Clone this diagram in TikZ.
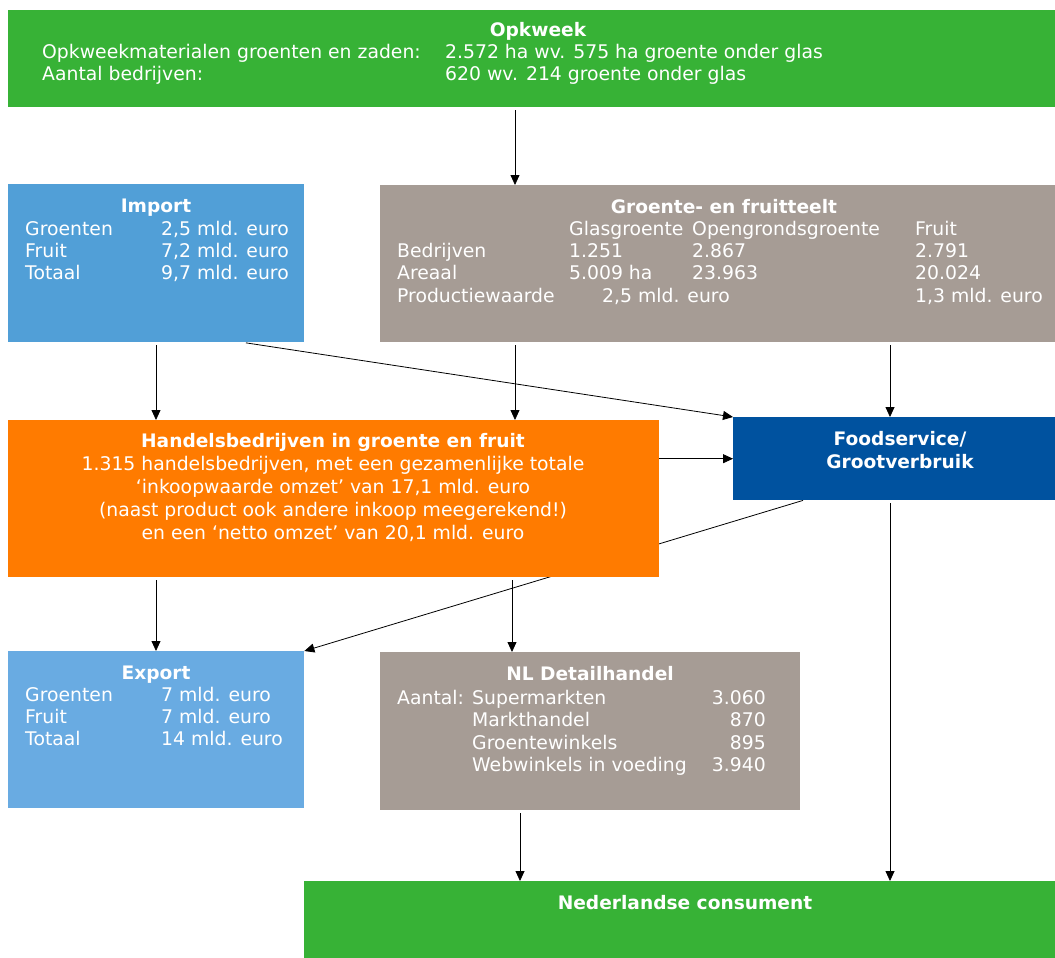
\documentclass[tikz,border=0pt]{standalone}
\usepackage{fontspec}
\setmainfont{DejaVu Sans}
\usetikzlibrary{arrows.meta,backgrounds}

\definecolor{opkgreen}{RGB}{55,178,54}
\definecolor{impblue}{RGB}{81,159,215}
\definecolor{expblue}{RGB}{105,171,226}
\definecolor{teeltgrey}{RGB}{166,156,149}
\definecolor{handelorange}{RGB}{255,123,0}
\definecolor{fooddarkblue}{RGB}{0,82,159}

\newcommand{\flowbox}[6]
{
\def\bx{#2} % left edge of the box
\def\by{#3} % top edge of the box
\def\bw{#4} % width of the box
\def\bh{#5} % height of the box
\node[box, fill=#6, minimum width=\bw pt, minimum height=\bh pt] (#1) at (\bx,\by) {};
}

\tikzset{
  box/.style={rectangle, anchor=north west, inner sep=0pt, draw=none},
  txt/.style={text=white, inner sep=0pt, anchor=base west},
  txtc/.style={text=white, inner sep=0pt, anchor=base},
  ttl/.style={text=white, inner sep=0pt, anchor=base, font=\fontsize{18.6}{22}\selectfont\bfseries},
  arr/.style={-{Triangle[length=10pt,width=9pt]}, black, line width=0.8pt, shorten <=3pt}
}

\begin{document}
\begin{tikzpicture}[x=1pt,y=-1pt,font=\fontsize{18.8}{22}\selectfont]
\useasboundingbox (0,0) rectangle (1055,958);

% Boxes
\flowbox{opk}{8}{10}{1047}{97}{opkgreen}
\flowbox{imp}{8}{184}{296}{158}{impblue}
\flowbox{teelt}{380}{185}{675}{157}{teeltgrey}
\flowbox{handel}{8}{420}{651}{157}{handelorange}
\flowbox{food}{733}{417}{322}{83}{fooddarkblue}
\flowbox{exp}{8}{651}{296}{157}{expblue}
\flowbox{detail}{380}{652}{420}{158}{teeltgrey}
\flowbox{cons}{304}{881}{751}{77}{opkgreen}

% Opkweek
\node[ttl] (opk-t) at (538,37) {Opkweek};
\node[txt] (opk-l1) at (42,59) {Opkweekmaterialen groenten en zaden:};
\node[txt] (opk-v1) at (445,59) {2.572 ha wv. 575 ha groente onder glas};
\node[txt] (opk-l2) at (42,81) {Aantal bedrijven:};
\node[txt] (opk-v2) at (445,81) {620 wv. 214 groente onder glas};

% Import
\node[ttl] (imp-t) at (156,212) {Import};
\foreach \lbl/\val [count=\i] in {Groenten/{2,5 mld. euro},Fruit/{7,2 mld. euro},Totaal/{9,7 mld. euro}}
{
\node[txt] (imp-l\i) at (25,213+22*\i) {\lbl};
\node[txt] (imp-v\i) at (161,213+22*\i) {\val};
}

% Groente- en fruitteelt
\node[ttl] (teelt-t) at (724,213) {Groente- en fruitteelt};
\node[txt] (teelt-h1) at (569,235) {Glasgroente};
\node[txt] (teelt-h2) at (692,235) {Opengrondsgroente};
\node[txt] (teelt-h3) at (915,235) {Fruit};
\foreach \lbl/\a/\b/\c [count=\i] in {Bedrijven/1.251/2.867/2.791,Areaal/5.009 ha/23.963/20.024}
{
\node[txt] (teelt-l\i) at (397,235+22*\i) {\lbl};
\node[txt] (teelt-a\i) at (569,235+22*\i) {\a};
\node[txt] (teelt-b\i) at (692,235+22*\i) {\b};
\node[txt] (teelt-c\i) at (915,235+22*\i) {\c};
}
\node[txt] (teelt-l3) at (397,302) {Productiewaarde};
\node[txt] (teelt-a3) at (602,302) {2,5 mld. euro};
\node[txt] (teelt-c3) at (915,302) {1,3 mld. euro};

% Handelsbedrijven
\node[ttl] (handel-t) at (333,447) {Handelsbedrijven in groente en fruit};
\foreach \line [count=\i] in {{1.315 handelsbedrijven, met een gezamenlijke totale},{`inkoopwaarde omzet' van 17,1 mld. euro},{(naast product ook andere inkoop meegerekend!)},{en een `netto omzet' van 20,1 mld. euro}}
\node[txtc] (handel-l\i) at (333,447+23*\i) {\line};

% Foodservice
\node[ttl] (food-t1) at (900,445) {Foodservice/};
\node[ttl] (food-t2) at (900,468) {Grootverbruik};

% Export
\node[ttl] (exp-t) at (156,679) {Export};
\foreach \lbl/\val [count=\i] in {Groenten/{7 mld. euro},Fruit/{7 mld. euro},Totaal/{14 mld. euro}}
{
\node[txt] (exp-l\i) at (25,679+22.3*\i) {\lbl};
\node[txt] (exp-v\i) at (161,679+22.3*\i) {\val};
}

% NL Detailhandel
\node[ttl] (detail-t) at (590,680) {NL Detailhandel};
\node[txt] (detail-a) at (397,704) {Aantal:};
\foreach \lbl/\val [count=\i] in {Supermarkten/3.060,Markthandel/870,Groentewinkels/895,Webwinkels in voeding/3.940}
{
\node[txt] (detail-l\i) at (472,681.5+22.5*\i) {\lbl};
\node[txt, anchor=base east] (detail-v\i) at (766,681.5+22.5*\i) {\val};
}

% Nederlandse consument
\node[ttl] (cons-t) at (685,909) {Nederlandse consument};

% Vertical connectors
\foreach \from/\to/\x in {opk/teelt/515,imp/handel/156,teelt/handel/515,teelt/food/890,handel/exp/156,handel/detail/512,detail/cons/520,food/cons/890}
\draw[arr] (\from.south -| \x,0) -- (\to.north -| \x,0);

% Other connectors
\draw[arr] (imp.south -| 243,0) -- (food.north west);
\draw[arr, shorten <=0pt] (handel.east |- food.west) -- (food.west);
\begin{pgfonlayer}{background}
\draw[arr, shorten <=0pt] (food.south -| 803,0) -- (exp.north east);
\end{pgfonlayer}
\end{tikzpicture}
\end{document}
